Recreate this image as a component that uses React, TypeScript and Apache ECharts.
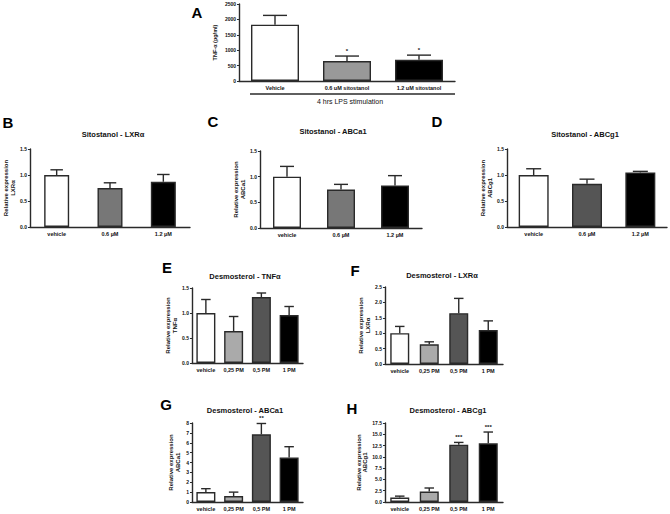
import React, { useEffect, useRef } from "react";
import * as echarts from "echarts";

// ---------- data ----------
const aCategories = ["Vehicle", "0.6 uM sitostanol", "1.2 uM sitostanol"];
const aMeans = [1830, 650, 690];
const aSems = [300, 160, 150];
const aStars = ["", "*", "*"];

const sitoCategories = ["vehicle", "0.6 µM", "1.2 µM"];
const bMeans = [1.0, 0.75, 0.87];
const bSems = [0.1, 0.1, 0.14];
const cMeans = [1.0, 0.75, 0.83];
const cSems = [0.2, 0.1, 0.19];
const dMeans = [1.0, 0.83, 1.05];
const dSems = [0.12, 0.09, 0.02];

const desmoCategories = ["vehicle", "0,25 PM", "0,5 PM", "1 PM"];
const eMeans = [1.0, 0.64, 1.32, 0.96];
const eSems = [0.27, 0.29, 0.08, 0.17];
const fMeans = [1.0, 0.64, 1.65, 1.1];
const fSems = [0.22, 0.08, 0.48, 0.3];
const gMeans = [1.0, 0.6, 6.85, 4.5];
const gSems = [0.35, 0.4, 1.1, 1.1];
const gStars = ["", "", "**", ""];
const hMeans = [1.0, 2.3, 12.7, 13.0];
const hSems = [0.3, 0.8, 0.5, 2.5];
const hStars = ["", "", "***", "***"];

const noStars3 = ["", "", ""];
const noStars4 = ["", "", "", ""];

const FONT = "Liberation Sans, Arial, sans-serif";
const AX = "#2a2a2a";
const TXT = "#111";

type Panel = {
  letter: string;
  letterX: number;
  letterY: number;
  title: string;
  titleX: number;
  titleY: number;
  cats: string[];
  means: number[];
  sems: number[];
  stars: string[];
  colors: string[];
  yName: string;
  yMax: number;
  yInterval: number;
  yDigits: number;
  left: number;
  top: number;
  width: number;
  height: number;
  barWidth: number;
  nameGap: number;
};

const panels: Panel[] = [
  {
    letter: "A", letterX: 197, letterY: 12, title: "", titleX: 0, titleY: 0,
    cats: aCategories, means: aMeans, sems: aSems, stars: aStars,
    colors: ["#ffffff", "#999999", "#000000"],
    yName: "TNF-α (pg/ml)", yMax: 2500, yInterval: 500, yDigits: 0,
    left: 239, top: 4, width: 216, height: 77, barWidth: 48, nameGap: 21,
  },
  {
    letter: "B", letterX: 8, letterY: 122, title: "Sitostanol - LXRα", titleX: 113, titleY: 134,
    cats: sitoCategories, means: bMeans, sems: bSems, stars: noStars3,
    colors: ["#ffffff", "#777777", "#000000"],
    yName: "Relative expression\nLXRα", yMax: 1.5, yInterval: 0.5, yDigits: 1,
    left: 30, top: 149, width: 160, height: 78, barWidth: 25, nameGap: 14,
  },
  {
    letter: "C", letterX: 213, letterY: 121, title: "Sitostanol - ABCa1", titleX: 333, titleY: 131,
    cats: sitoCategories, means: cMeans, sems: cSems, stars: noStars3,
    colors: ["#ffffff", "#777777", "#000000"],
    yName: "Relative expression\nABCa1", yMax: 1.5, yInterval: 0.5, yDigits: 1,
    left: 260, top: 151, width: 162, height: 77, barWidth: 28, nameGap: 14,
  },
  {
    letter: "D", letterX: 437, letterY: 121, title: "Sitostanol - ABCg1", titleX: 585, titleY: 134,
    cats: sitoCategories, means: dMeans, sems: dSems, stars: noStars3,
    colors: ["#ffffff", "#555555", "#000000"],
    yName: "Relative expression\nABCg1", yMax: 1.5, yInterval: 0.5, yDigits: 1,
    left: 507, top: 149, width: 160, height: 78, barWidth: 30, nameGap: 14,
  },
  {
    letter: "E", letterX: 167, letterY: 267, title: "Desmosterol - TNFα", titleX: 245, titleY: 276,
    cats: desmoCategories, means: eMeans, sems: eSems, stars: noStars4,
    colors: ["#ffffff", "#aaaaaa", "#555555", "#000000"],
    yName: "Relative expression\nTNFα", yMax: 1.5, yInterval: 0.5, yDigits: 1,
    left: 192, top: 288, width: 111, height: 75, barWidth: 19, nameGap: 14,
  },
  {
    letter: "F", letterX: 355, letterY: 270, title: "Desmosterol - LXRα", titleX: 442, titleY: 275,
    cats: desmoCategories, means: fMeans, sems: fSems, stars: noStars4,
    colors: ["#ffffff", "#aaaaaa", "#555555", "#000000"],
    yName: "Relative expression\nLXRα", yMax: 2.5, yInterval: 0.5, yDigits: 1,
    left: 385, top: 287, width: 118, height: 77, barWidth: 19, nameGap: 14,
  },
  {
    letter: "G", letterX: 166, letterY: 404, title: "Desmosterol - ABCa1", titleX: 245, titleY: 410,
    cats: desmoCategories, means: gMeans, sems: gSems, stars: gStars,
    colors: ["#ffffff", "#aaaaaa", "#555555", "#000000"],
    yName: "Relative expression\nABCa1", yMax: 8, yInterval: 1, yDigits: 0,
    left: 192, top: 423, width: 111, height: 79, barWidth: 19, nameGap: 11,
  },
  {
    letter: "H", letterX: 352, letterY: 408, title: "Desmosterol - ABCg1", titleX: 448, titleY: 410,
    cats: desmoCategories, means: hMeans, sems: hSems, stars: hStars,
    colors: ["#ffffff", "#aaaaaa", "#555555", "#000000"],
    yName: "Relative expression\nABCg1", yMax: 17.5, yInterval: 2.5, yDigits: 1,
    left: 385, top: 423, width: 118, height: 79, barWidth: 19, nameGap: 16,
  },
];

function buildOption() {
  const grid: any[] = [];
  const xAxis: any[] = [];
  const yAxis: any[] = [];
  const series: any[] = [];
  const graphic: any[] = [];

  panels.forEach((p, idx) => {
    grid.push({ left: p.left, top: p.top, width: p.width, height: p.height, containLabel: false });
    xAxis.push({
      type: "category",
      gridIndex: idx,
      data: p.cats,
      axisLine: { lineStyle: { color: AX, width: 1.4 } },
      axisTick: { alignWithLabel: true, length: 2, lineStyle: { color: AX } },
      axisLabel: {
        interval: 0,
        fontSize: 5.5,
        fontWeight: "bold",
        color: TXT,
        fontFamily: FONT,
        margin: 4,
      },
    });
    yAxis.push({
      type: "value",
      gridIndex: idx,
      min: 0,
      max: p.yMax,
      interval: p.yInterval,
      name: p.yName,
      nameLocation: "middle",
      nameRotate: 90,
      nameGap: p.nameGap,
      nameTextStyle: {
        fontSize: idx === 0 ? 5.5 : 6,
        fontWeight: "bold",
        color: TXT,
        fontFamily: FONT,
        lineHeight: 6.5,
      },
      axisLine: { show: true, lineStyle: { color: AX, width: 1.4 } },
      axisTick: { show: true, length: 2, lineStyle: { color: AX } },
      splitLine: { show: false },
      axisLabel: {
        fontSize: 5,
        fontWeight: "bold",
        color: TXT,
        fontFamily: FONT,
        margin: 3,
        formatter: (v: number) => v.toFixed(p.yDigits),
      },
    });
    series.push({
      type: "bar",
      xAxisIndex: idx,
      yAxisIndex: idx,
      barWidth: p.barWidth,
      data: p.means.map((m, i) => ({
        value: m,
        itemStyle: { color: p.colors[i], borderColor: AX, borderWidth: 1.4 },
      })),
      z: 2,
    });
    const stars = p.stars;
    const bw = p.barWidth;
    series.push({
      type: "custom",
      xAxisIndex: idx,
      yAxisIndex: idx,
      z: 3,
      data: p.means.map((m, i) => [i, m, m + p.sems[i]]),
      renderItem: (params: any, api: any) => {
        const i = api.value(0);
        const base = api.coord([i, api.value(1)]);
        const top = api.coord([i, api.value(2)]);
        const half = bw / 4;
        const children: any[] = [
          {
            type: "line",
            shape: { x1: base[0], y1: base[1], x2: top[0], y2: top[1] },
            style: { stroke: AX, lineWidth: 1.4 },
          },
          {
            type: "line",
            shape: { x1: top[0] - half, y1: top[1], x2: top[0] + half, y2: top[1] },
            style: { stroke: AX, lineWidth: 1.4 },
          },
        ];
        const s = stars[params.dataIndex];
        if (s) {
          children.push({
            type: "text",
            x: top[0],
            y: top[1] - 2,
            style: {
              text: s,
              fontSize: 6,
              fontWeight: "bold",
              fontFamily: FONT,
              fill: TXT,
              textAlign: "center",
              textVerticalAlign: "bottom",
            },
          });
        }
        return { type: "group", children };
      },
    });

    graphic.push({
      type: "text",
      x: p.letterX,
      y: p.letterY,
      style: {
        text: p.letter,
        fontSize: 15,
        fontWeight: "bold",
        fontFamily: FONT,
        fill: "#000",
        textAlign: "center",
        textVerticalAlign: "middle",
      },
    });
    if (p.title) {
      graphic.push({
        type: "text",
        x: p.titleX,
        y: p.titleY,
        style: {
          text: p.title,
          fontSize: 7.5,
          fontWeight: "bold",
          fontFamily: FONT,
          fill: TXT,
          textAlign: "center",
          textVerticalAlign: "middle",
        },
      });
    }
  });

  graphic.push({
    type: "line",
    shape: { x1: 250, y1: 94, x2: 455, y2: 94 },
    style: { stroke: AX, lineWidth: 1.3 },
  });
  graphic.push({
    type: "text",
    x: 350,
    y: 101,
    style: {
      text: "4 hrs LPS stimulation",
      fontSize: 7,
      fontFamily: FONT,
      fill: TXT,
      textAlign: "center",
      textVerticalAlign: "middle",
    },
  });

  return {
    animation: false,
    backgroundColor: "#ffffff",
    grid,
    xAxis,
    yAxis,
    series,
    graphic,
  };
}

export default function App() {
  const ref = useRef<HTMLDivElement>(null);
  useEffect(() => {
    if (!ref.current) return;
    const chart = echarts.init(ref.current, undefined, { renderer: "svg" });
    chart.setOption(buildOption() as any);
    return () => chart.dispose();
  }, []);
  return (
    <div
      ref={ref}
      style={{ position: "absolute", left: 0, top: 0, width: 670, height: 514, background: "#fff" }}
    />
  );
}
